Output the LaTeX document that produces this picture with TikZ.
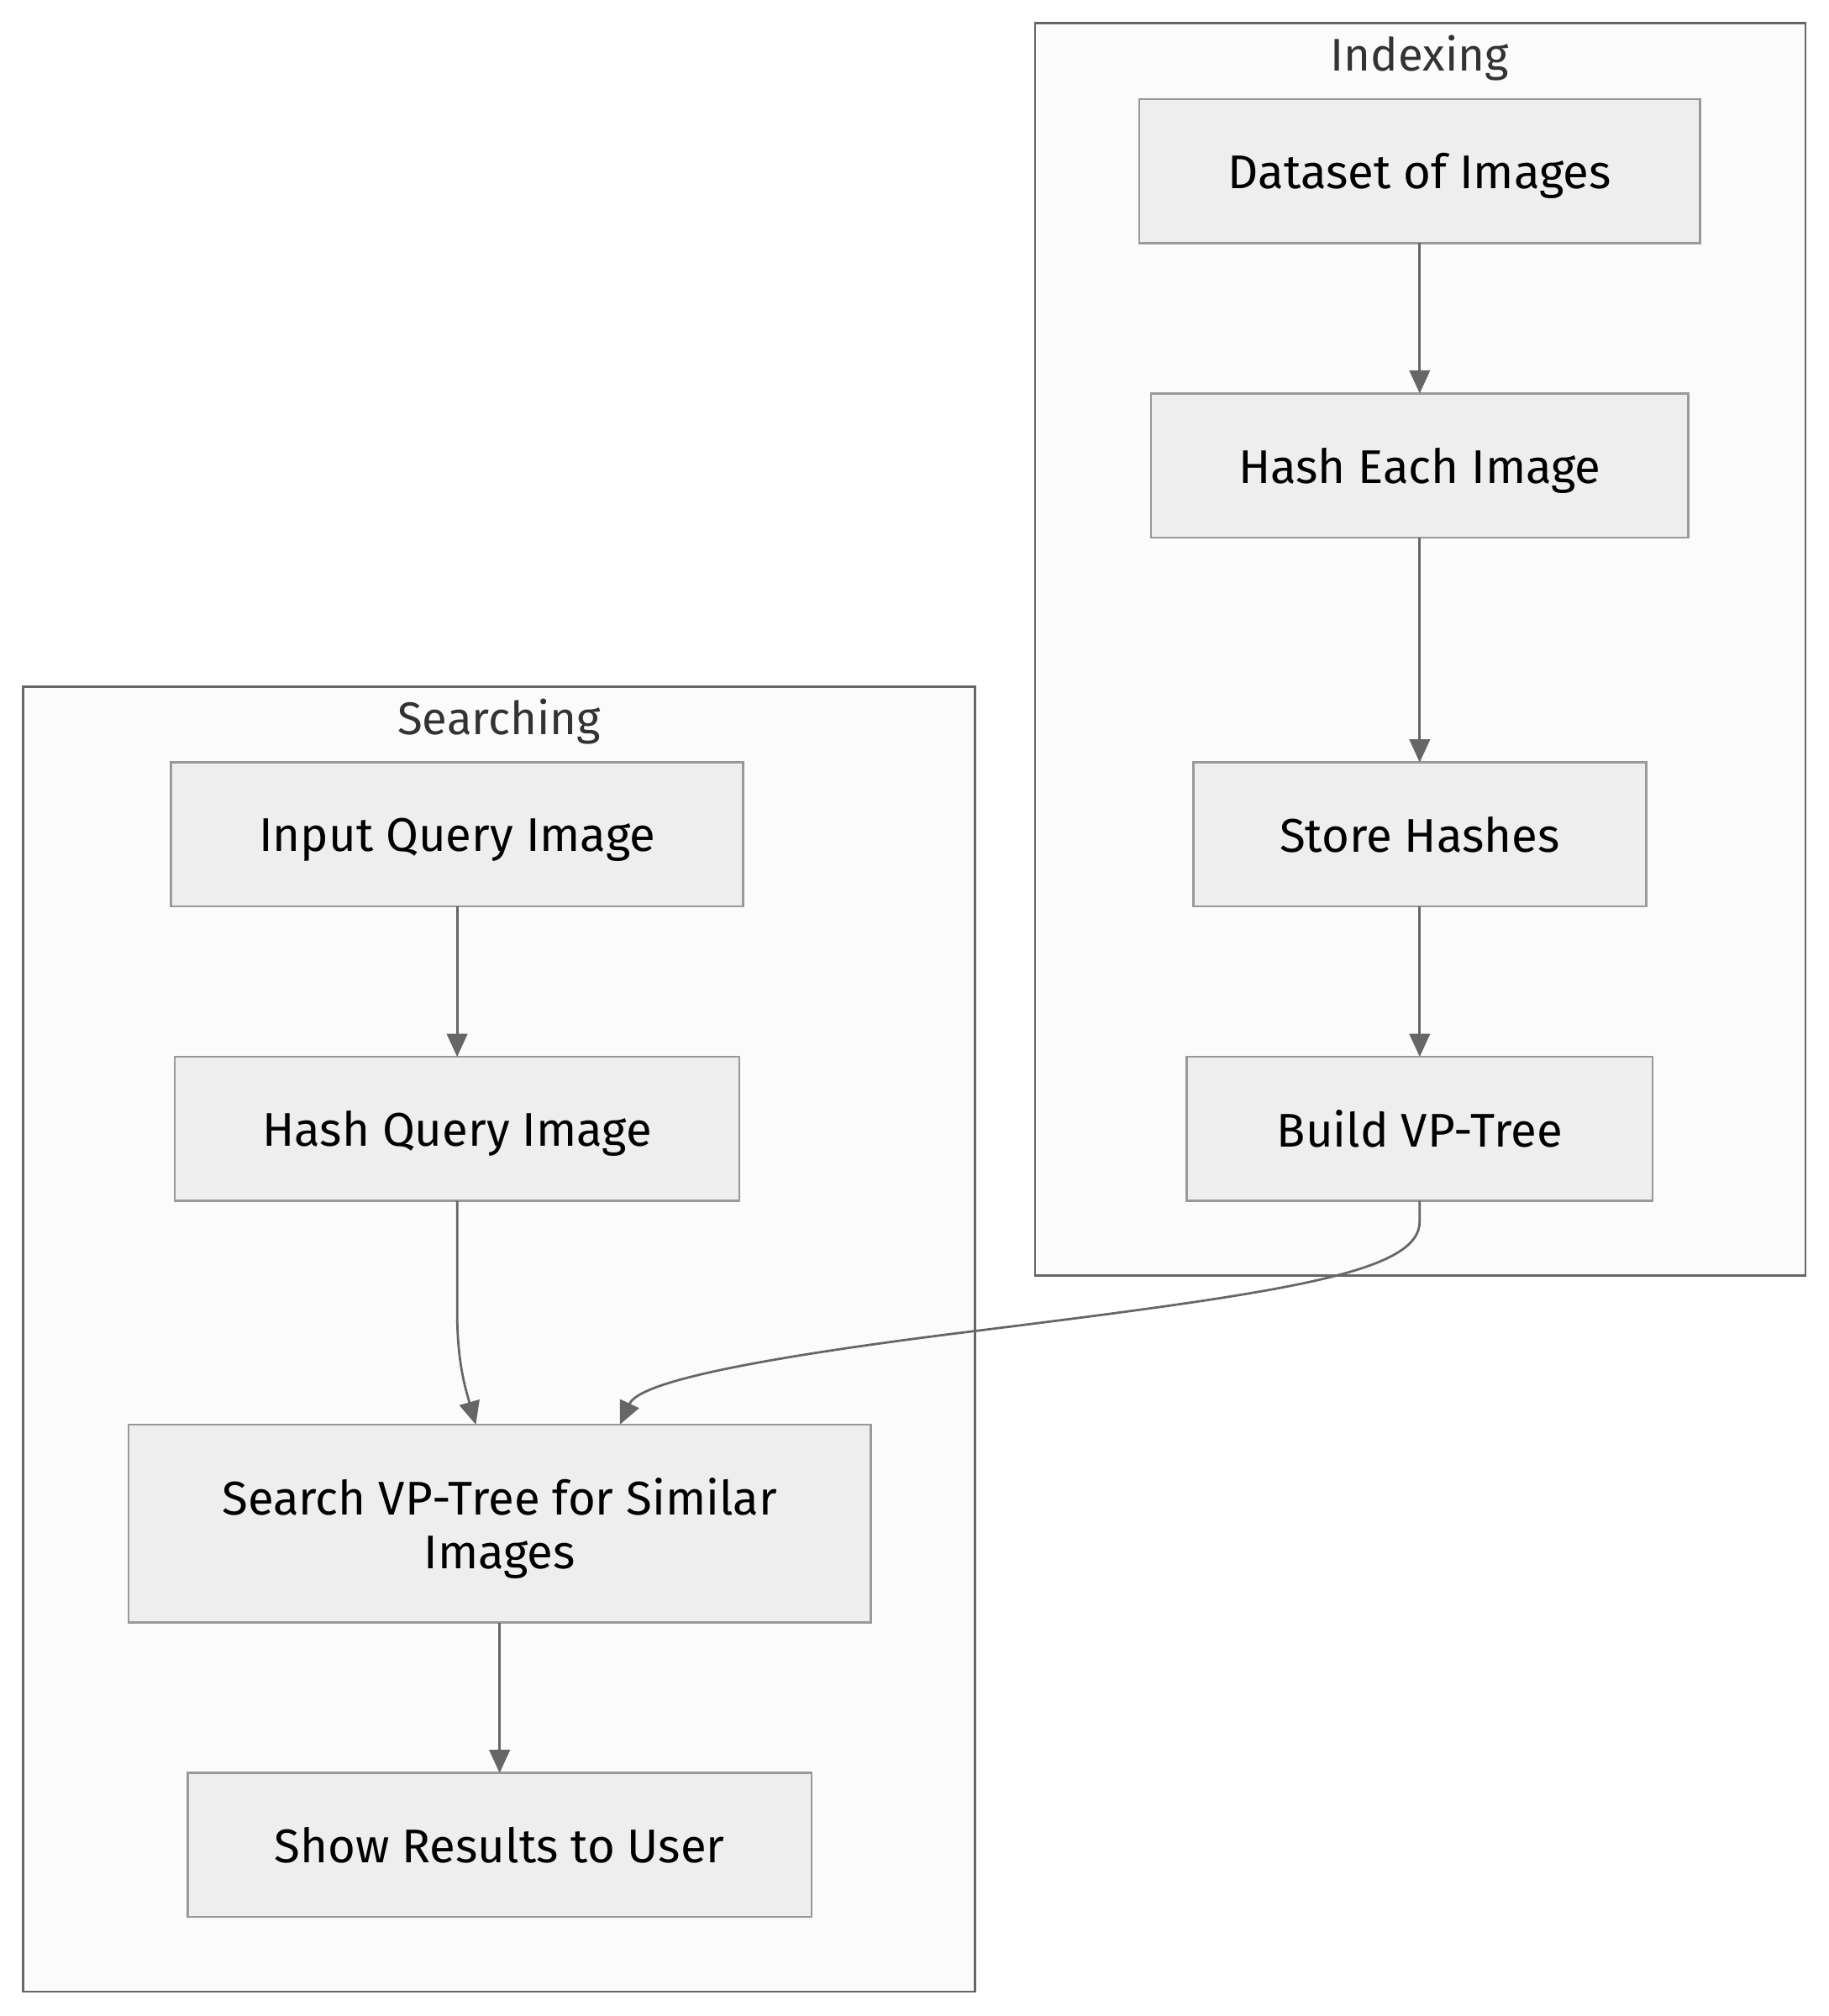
\documentclass[tikz,border=0pt]{standalone}
\usepackage{fontspec}
\setmainfont{Fira Sans}
\usetikzlibrary{arrows.meta,calc}
\definecolor{clfill}{HTML}{FBFBFB}
\definecolor{clline}{HTML}{666666}
\definecolor{boxfill}{HTML}{EEEEEE}
\definecolor{boxline}{HTML}{999999}
\definecolor{lbl}{HTML}{333333}
\begin{document}
\begin{tikzpicture}[x=0.5pt,y=-0.5pt,inner sep=0pt,outer sep=0pt,
    every node/.style={font=\fontsize{18.4}{21}\selectfont},
    stepbox/.style={draw=boxline,fill=boxfill,line width=0.85pt,minimum height=56pt,align=center,text depth=0pt},
    group/.style={draw=clline,fill=clfill,line width=0.85pt},
    grouplabel/.style={text=lbl,font=\fontsize{17.8}{21}\selectfont},
    flow/.style={draw=clline,line width=0.9pt,-{Triangle[length=9pt,width=8pt]}}]
    \useasboundingbox (0,0) rectangle (1422,1568);

    % groups
    \node[group, minimum width=299.5pt, minimum height=487pt] (indexing) at (1104.5, 505) {};
    \node[group, minimum width=370pt, minimum height=507.5pt] (searching) at (388, 1041.5) {};
    \node[grouplabel] (indexing_cap) at (1104, 45) {Indexing};
    \node[grouplabel] (searching_cap) at (388, 561) {Searching};

    % indexing steps
    \node[stepbox, minimum width=218pt] (dataset) at (1104, 133) {Dataset of Images};
    \node[stepbox, minimum width=209pt] (hash_each) at (1104, 362) {Hash Each Image};
    \node[stepbox, minimum width=176pt] (store) at (1104, 649) {Store Hashes};
    \node[stepbox, minimum width=181pt] (build) at (1104, 878) {Build VP-Tree};

    % searching steps
    \node[stepbox, minimum width=222.5pt] (input) at (355.5, 649) {Input Query Image};
    \node[stepbox, minimum width=219.5pt] (hash_query) at (355.5, 878) {Hash Query Image};
    \node[stepbox, minimum width=288.5pt, minimum height=77pt] (search) at (388.5, 1185) {Search VP-Tree for Similar\\Images};
    \node[stepbox, minimum width=242.5pt] (show) at (388.5, 1435) {Show Results to User};

    % edges
    \draw[flow] (dataset) -- (hash_each);
    \draw[flow] (hash_each) -- (store);
    \draw[flow] (store) -- (build);
    \draw[flow] (input) -- (hash_query);
    \draw[flow] (hash_query.south) -- ++(0,86) .. controls +(0,40) and (362,1080) .. ($(search.north west)+(270,0)$);
    \draw[flow] (build.south) -- ++(0,16) .. controls +(0,40) and (1000,1005) .. (760,1035)
        .. controls (540,1062) and (495,1080) .. ($(search.north west)+(382,0)$);
    \draw[flow] (search) -- (show);
\end{tikzpicture}
\end{document}
